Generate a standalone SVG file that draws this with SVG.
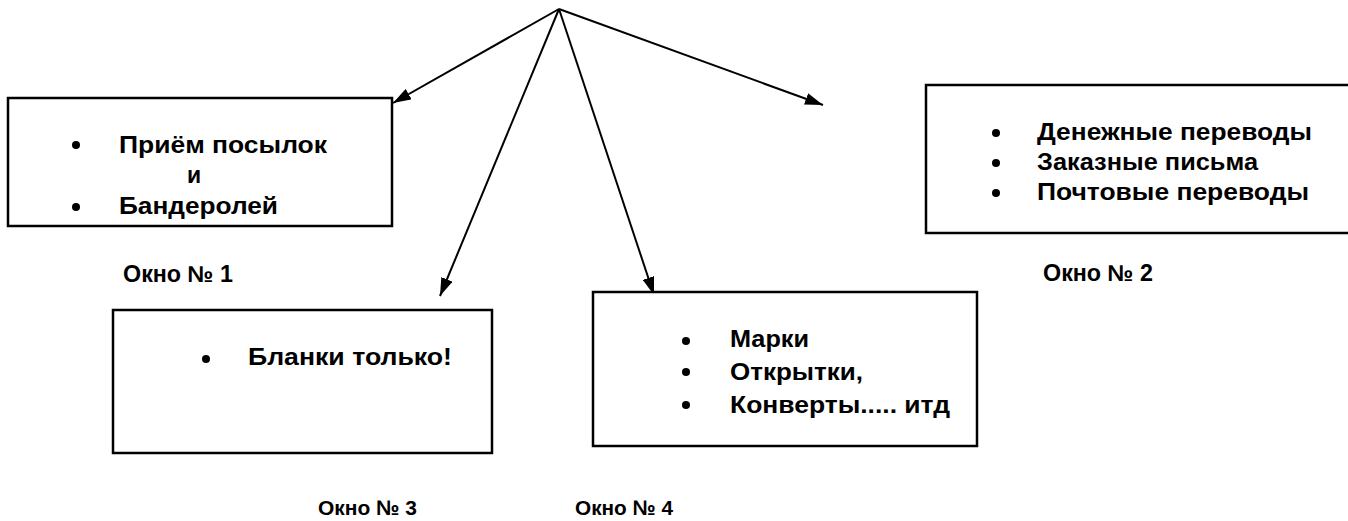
<svg xmlns="http://www.w3.org/2000/svg" width="1348" height="521" viewBox="0 0 1348 521">
<style>
.box{fill:#fff;stroke:#000;stroke-width:2.5}
.t{font-family:"Liberation Sans",Arial,sans-serif;font-weight:bold;font-size:23px;fill:#000}
.lbl{font-family:"Liberation Sans",Arial,sans-serif;font-weight:bold;font-size:23px;fill:#000}
.lbl2{font-family:"Liberation Sans",Arial,sans-serif;font-weight:bold;font-size:21px;fill:#000}
.conn{stroke:#000;stroke-width:2;fill:none;marker-end:url(#ah)}
</style>
<defs>
<marker id="ah" viewBox="0 0 18 12" refX="18" refY="6" markerWidth="18" markerHeight="12" markerUnits="userSpaceOnUse" orient="auto">
<path d="M0,0 L18,6 L0,12 z" fill="#000"/>
</marker>
<circle id="b" r="4" fill="#000"/>
</defs>
<rect width="1348" height="521" fill="#fff"/>
<g id="connectors">
<line class="conn" x1="559" y1="9" x2="393" y2="103"/>
<line class="conn" x1="559" y1="9" x2="440" y2="296"/>
<line class="conn" x1="559" y1="9" x2="654" y2="295"/>
<line class="conn" x1="559" y1="9" x2="823" y2="105"/>
</g>
<g id="okno1">
<rect class="box" x="8" y="98" width="384" height="128"/>
<use href="#b" x="76" y="145"/>
<text class="t" x="119" y="153" textLength="208" lengthAdjust="spacingAndGlyphs">Приём посылок</text>
<text class="t" x="187" y="183">и</text>
<use href="#b" x="76" y="207"/>
<text class="t" x="119" y="214" textLength="159" lengthAdjust="spacingAndGlyphs">Бандеролей</text>
<text class="lbl" x="123" y="282" textLength="110" lengthAdjust="spacingAndGlyphs">Окно № 1</text>
</g>
<g id="okno2">
<rect class="box" x="926" y="85" width="424" height="148"/>
<use href="#b" x="996" y="133"/>
<text class="t" x="1037" y="140" textLength="275" lengthAdjust="spacingAndGlyphs">Денежные переводы</text>
<use href="#b" x="996" y="163"/>
<text class="t" x="1037" y="170" textLength="221" lengthAdjust="spacingAndGlyphs">Заказные письма</text>
<use href="#b" x="996" y="193"/>
<text class="t" x="1037" y="200" textLength="272" lengthAdjust="spacingAndGlyphs">Почтовые переводы</text>
<text class="lbl" x="1043" y="281" textLength="110" lengthAdjust="spacingAndGlyphs">Окно № 2</text>
</g>
<g id="okno3">
<rect class="box" x="113" y="310" width="379" height="143"/>
<use href="#b" x="206" y="359"/>
<text class="t" x="248" y="365" textLength="204" lengthAdjust="spacingAndGlyphs">Бланки только!</text>
<text class="lbl2" x="318" y="515" textLength="99" lengthAdjust="spacingAndGlyphs">Окно № 3</text>
</g>
<g id="okno4">
<rect class="box" x="593" y="292" width="384" height="154"/>
<use href="#b" x="686" y="341"/>
<text class="t" x="730" y="347" textLength="79" lengthAdjust="spacingAndGlyphs">Марки</text>
<use href="#b" x="686" y="372"/>
<text class="t" x="730" y="380" textLength="133" lengthAdjust="spacingAndGlyphs">Открытки,</text>
<use href="#b" x="686" y="405"/>
<text class="t" x="730" y="413" textLength="220" lengthAdjust="spacingAndGlyphs">Конверты..... итд</text>
<text class="lbl2" x="575" y="515" textLength="98" lengthAdjust="spacingAndGlyphs">Окно № 4</text>
</g>
</svg>
